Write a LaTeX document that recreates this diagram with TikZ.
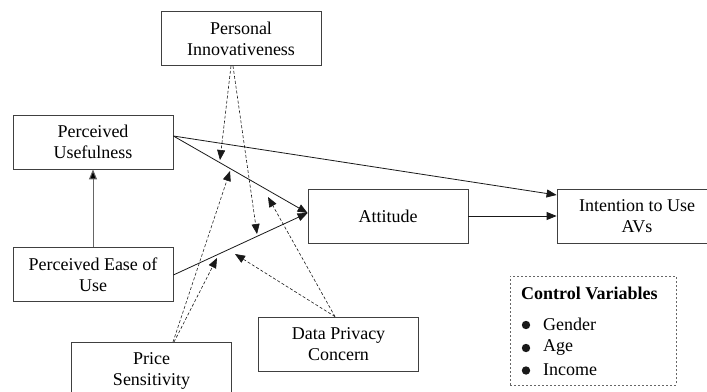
\documentclass[tikz,border=0pt]{standalone}
\usepackage{fontspec}
\setmainfont{Liberation Serif}
\usetikzlibrary{arrows.meta}
\begin{document}
\begin{tikzpicture}[x=1pt,y=-1pt,
  box/.style={draw=black!75, line width=0.8pt, minimum width=160pt, minimum height=54pt,
    align=center, inner sep=2pt, font=\fontsize{18}{21}\selectfont},
  solidarrow/.style={draw=black!90, line width=0.8pt, -{Triangle[length=10pt,width=8pt]}},
  grayarrow/.style={draw=black!60, line width=1pt, -{Triangle[length=10pt,width=8pt,fill=black]}},
  dasharrow/.style={draw=black!90, line width=0.6pt, dash pattern=on 3pt off 2pt,
    -{Triangle[length=10pt,width=8pt]}},
  ctrlbox/.style={draw=black!60, line width=0.8pt, dash pattern=on 2pt off 2pt,
    minimum width=166pt, minimum height=109pt},
  ctrltext/.style={anchor=west, inner sep=0pt, font=\fontsize{18}{21}\selectfont},
  dot/.style={fill=black!90}]
\clip (0,0) rectangle (707,391);
\fill[white] (0,0) rectangle (707,391);

% boxes
\node[box] (pi)  at (241,38.5)  {Personal\\Innovativeness};
\node[box] (pu)  at (93,142)    {Perceived\\Usefulness};
\node[box] (peou) at (93,274.5) {Perceived Ease of\\Use};
\node[box] (att) at (388,216)   {Attitude};
\node[box] (int) at (637,216)   {Intention to Use\\AVs};
\node[box, minimum height=58pt] (ps) at (151.5,371) {Price\\Sensitivity};
\node[box] (dpc) at (338.5,344) {Data Privacy\\Concern};

% control variables
\node[ctrlbox] (cv) at (593,330.5) {};
\node[ctrltext, font=\fontsize{18}{21}\selectfont\bfseries] (cvt) at (521,293) {Control Variables};
\node[ctrltext] (g) at (543,324) {Gender};
\node[ctrltext] (a) at (543,347) {Age};
\node[ctrltext] (i) at (543,369.5) {Income};
\fill[dot] ([xshift=-17pt,yshift=-1pt]g.west) circle (4.2pt);
\fill[dot] ([xshift=-17pt,yshift=-1pt]a.west) circle (4.2pt);
\fill[dot] ([xshift=-17pt,yshift=-1pt]i.west) circle (4.2pt);

% main paths
\coordinate (puo) at ([yshift=6pt]pu.east);
\coordinate (peouo) at ([yshift=-0.5pt]peou.east);
\coordinate (atti) at ([yshift=3pt]att.west);
\draw[solidarrow] (puo) -- (atti);
\draw[solidarrow] (peouo) -- (atti);
\draw[solidarrow] (puo) -- ([yshift=21pt]int.west);
\draw[solidarrow] (att.east) -- (int.west);
\draw[grayarrow] (peou.north) -- (pu.south);

% moderating paths
\coordinate (pis) at ([xshift=-10pt]pi.south);
\coordinate (pss) at (173,342);
\coordinate (dpcs) at ([xshift=-3.5pt]dpc.north);
\coordinate (t1) at (220,160);
\coordinate (t2) at (257,234);
\coordinate (t3) at (230,171);
\coordinate (t4) at (217,258);
\coordinate (t5) at (268,197);
\coordinate (t6) at (235,254);
\draw[dasharrow] (pis) -- (t1);
\draw[dasharrow] ([xshift=2pt]pis) -- (t2);
\draw[dasharrow] (pss) -- (t3);
\draw[dasharrow] ([xshift=1pt]pss) -- (t4);
\draw[dasharrow] (dpcs) -- (t5);
\draw[dasharrow] (dpcs) -- (t6);
\end{tikzpicture}
\end{document}
